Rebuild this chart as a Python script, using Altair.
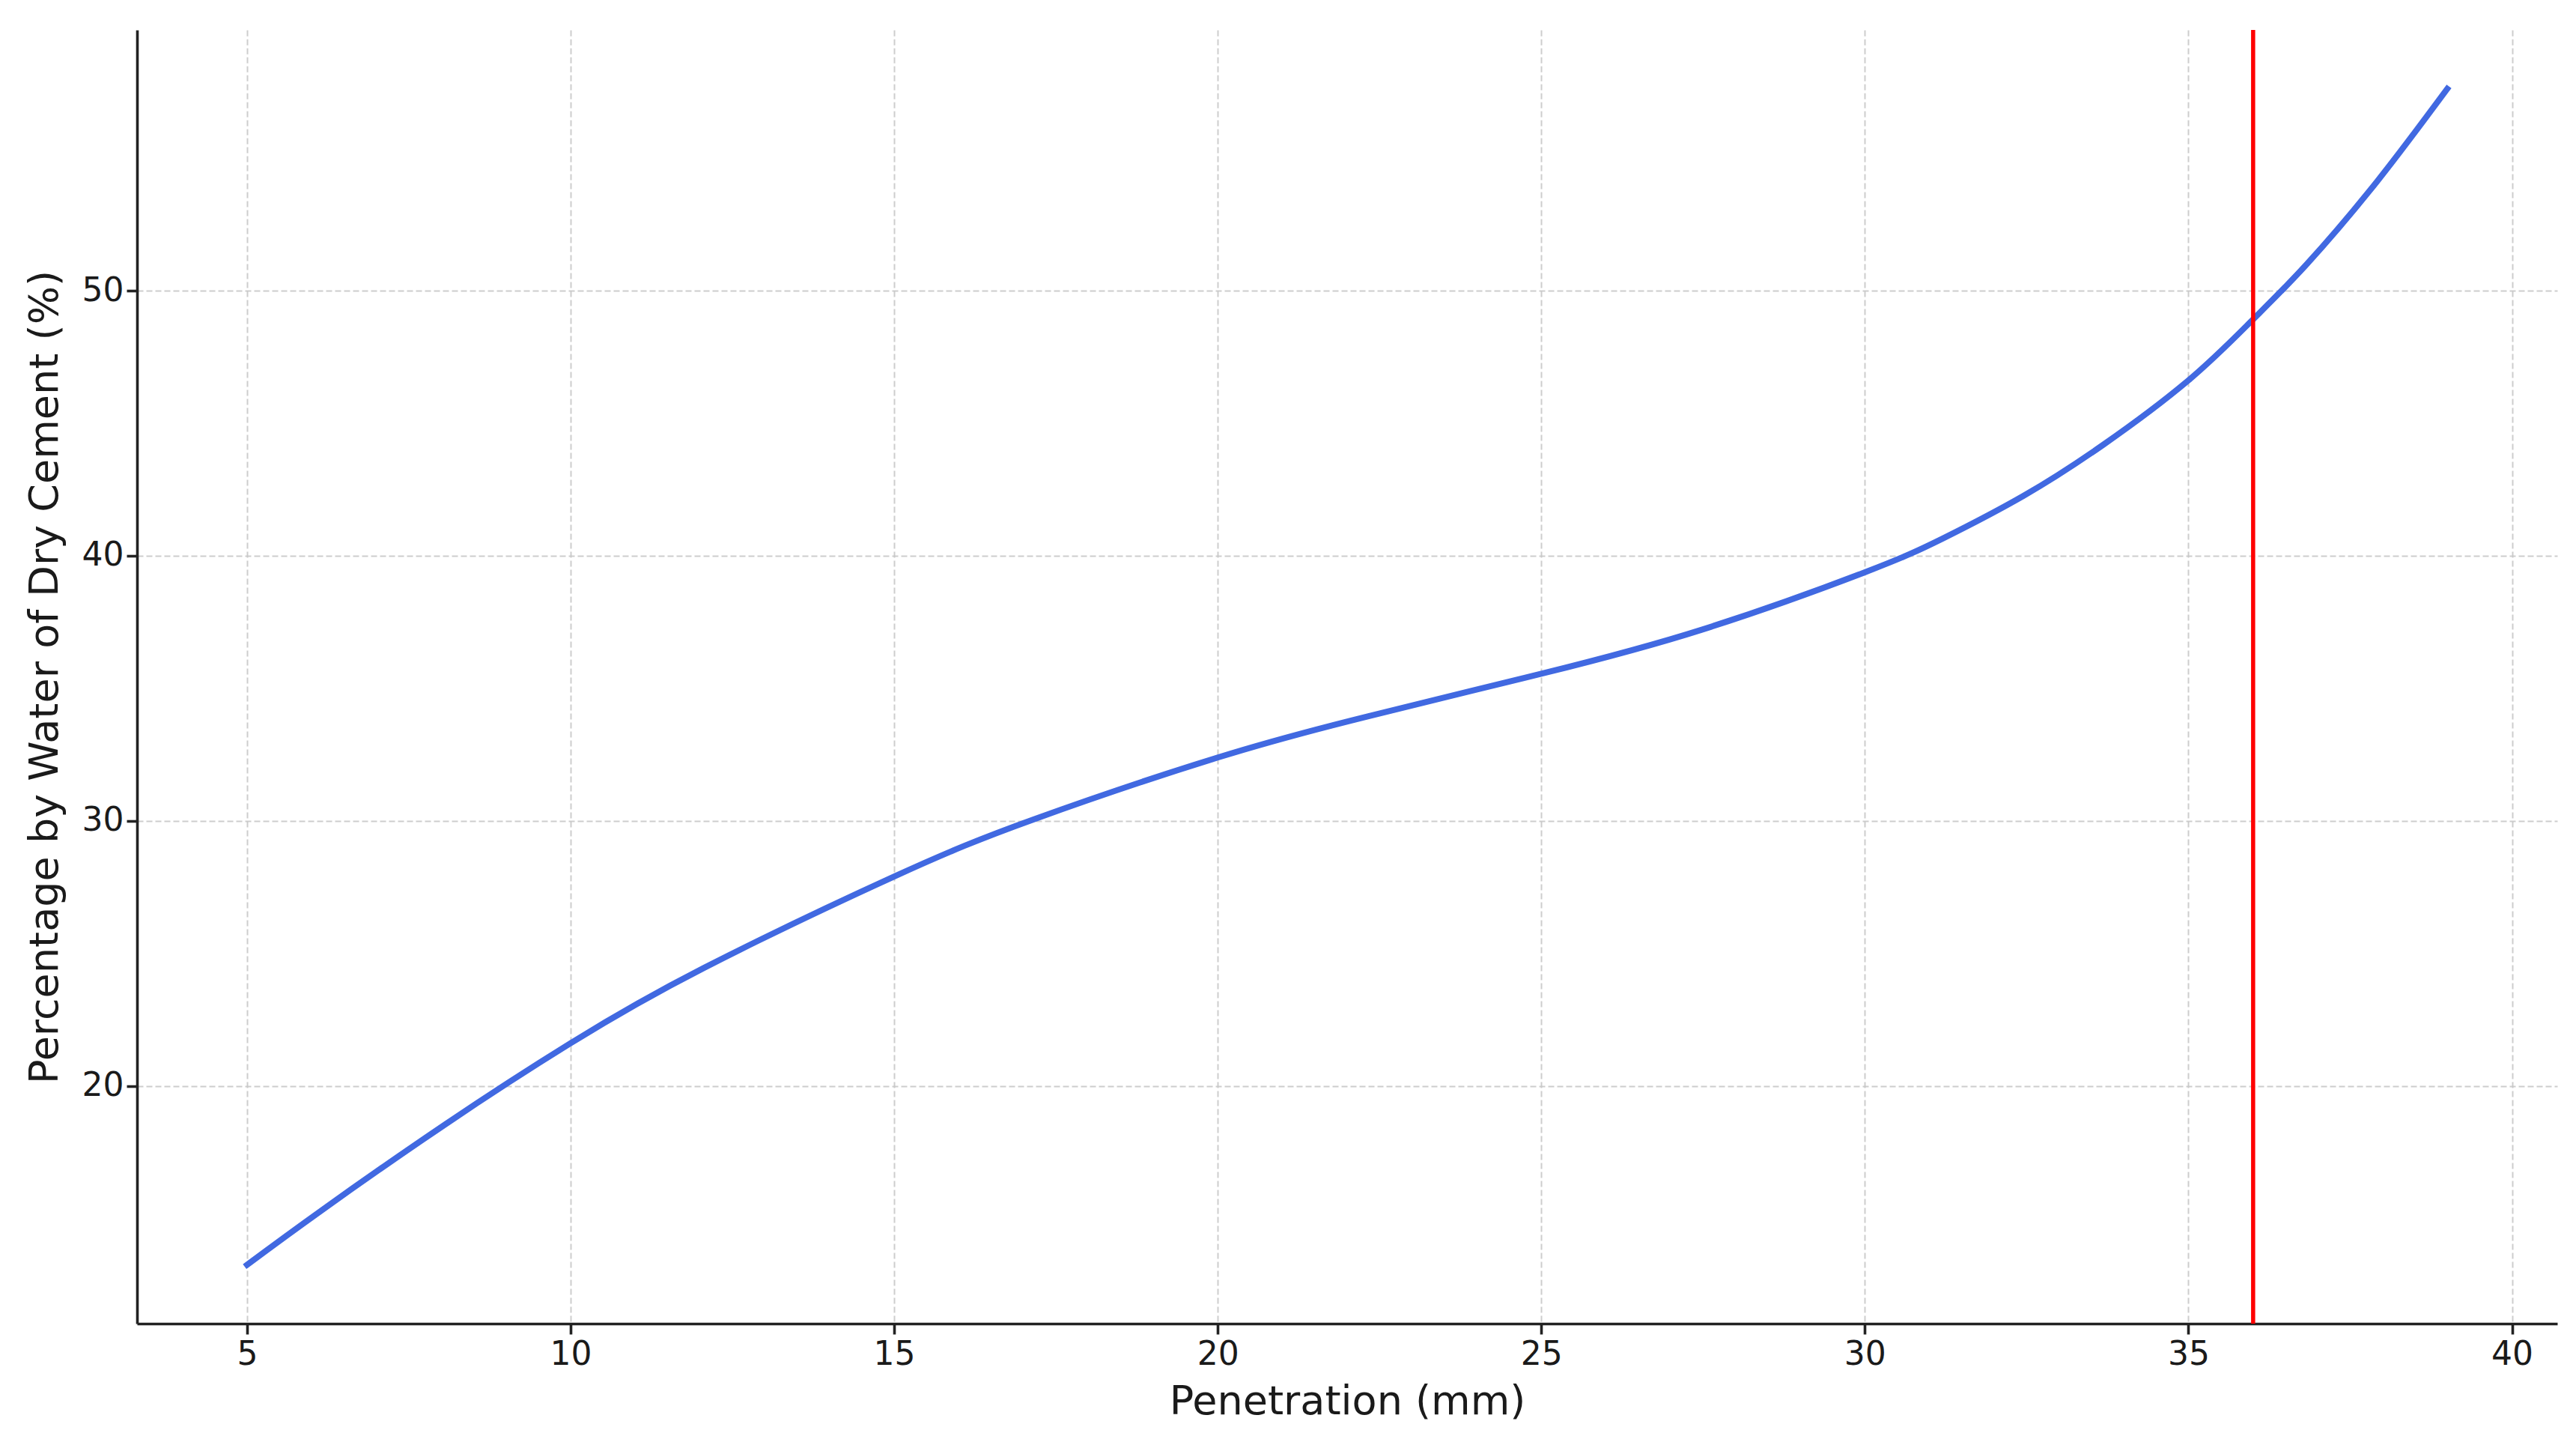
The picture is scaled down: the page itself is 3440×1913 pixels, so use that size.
import altair as alt
import pandas as pd

# Values
penetration = [5, 6.15, 8.07, 10, 12.06, 15, 17.16, 20, 22.33, 25, 27.49, 30,
               31.21, 32.45, 33.69, 35, 35.97, 36.82, 37.92, 39]
water = [13.25, 15.3, 18.56, 21.61, 24.45, 27.9, 30.06, 32.39, 33.95, 35.55,
         37.22, 39.38, 40.66, 42.26, 44.2, 46.62, 48.85, 50.98, 54.14, 57.62]
red_line_x = [36.0]
x_ticks = [5, 10, 15, 20, 25, 30, 35, 40]
y_ticks = [20, 30, 40, 50]

df = pd.DataFrame({"Penetration": penetration, "Water": water})
rule_df = pd.DataFrame({"x": red_line_x})

xscale = alt.Scale(domain=[3.3, 40.7], nice=False, zero=False)
yscale = alt.Scale(domain=[11.03, 59.84], nice=False, zero=False)

x_axis = alt.Axis(values=x_ticks, title="Penetration (mm)", labelPadding=5,
                  titlePadding=14, format="d")
y_axis = alt.Axis(values=y_ticks, title="Percentage by Water of Dry Cement (%)",
                  labelPadding=4, titlePadding=22, format="d")

line = alt.Chart(df).mark_line(
    color="#4169E1", strokeWidth=8, interpolate="natural", strokeCap="square"
).encode(
    x=alt.X("Penetration:Q", scale=xscale, axis=x_axis),
    y=alt.Y("Water:Q", scale=yscale, axis=y_axis),
)

rule = alt.Chart(rule_df).mark_rule(color="#ff0000", strokeWidth=5.5).encode(
    x=alt.X("x:Q", scale=xscale, axis=x_axis),
)

chart = alt.layer(line, rule).properties(
    width=3232,
    height=1727,
    autosize=alt.AutoSizeParams(type="none"),
    padding={"left": 175, "top": 32, "right": 10, "bottom": 136},
    background="white",
).configure_view(
    stroke=None
).configure_axis(
    domainColor="#222222",
    domainWidth=3.6,
    tickColor="#222222",
    tickWidth=3.6,
    tickSize=14,
    labelFont="DejaVu Sans",
    labelFontSize=44,
    labelColor="#1a1a1a",
    titleFont="DejaVu Sans",
    titleFontSize=54,
    titleFontWeight="normal",
    titleColor="#1a1a1a",
    grid=True,
    gridColor="#c8c8c8",
    gridWidth=2,
    gridDash=[8, 4],
    gridOpacity=0.9,
)

chart.save("out.html", embed_options={"renderer": "svg", "actions": False})
